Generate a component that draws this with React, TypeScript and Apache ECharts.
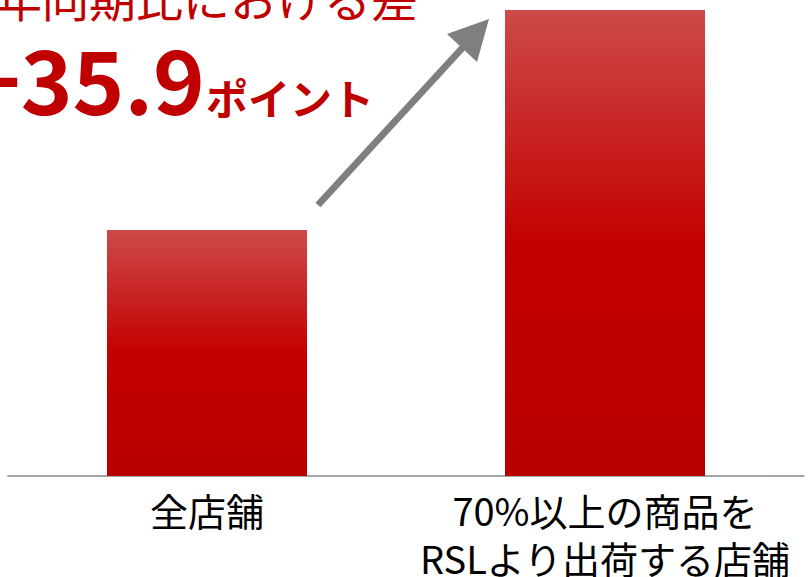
import React, { useEffect, useRef } from "react";
import * as echarts from "echarts";

const categories = ["全店舗", "70%以上の商品を\nRSLより出荷する店舗"];
const values = [40.1, 76.0];
const titleLine = "前年同期比における差";
const diffValue = "+35.9";
const diffUnit = "ポイント";

const FONT = '"Noto Sans CJK JP", "Noto Sans", sans-serif';

export default function App() {
  const ref = useRef<HTMLDivElement>(null);
  useEffect(() => {
    if (!ref.current) return;
    const chart = echarts.init(ref.current, null, { renderer: "svg" });
    chart.setOption({
      animation: false,
      backgroundColor: "#ffffff",
      grid: {
        left: 8,
        right: 8,
        top: 10,
        bottom: 101,
        containLabel: false,
        outerBoundsMode: "none",
      },
      xAxis: {
        type: "category",
        data: categories,
        axisLine: { show: true, lineStyle: { color: "#888888", width: 1.5 } },
        axisTick: { show: false },
        axisLabel: {
          color: "#000000",
          fontSize: 38,
          lineHeight: 48,
          margin: 9,
          fontFamily: FONT,
          interval: 0,
        },
      },
      yAxis: { type: "value", min: 0, max: 76, show: false, splitLine: { show: false } },
      series: [
        {
          type: "bar",
          data: values,
          barWidth: 200,
          itemStyle: {
            color: new echarts.graphic.LinearGradient(0, 0, 0, 1, [
              { offset: 0, color: "#cd4a4a" },
              { offset: 0.5, color: "#c40000" },
              { offset: 1, color: "#b80000" },
            ]),
          },
        },
      ],
      graphic: [
        {
          type: "text",
          x: 418,
          y: -4,
          style: {
            text: titleLine,
            fill: "#c00000",
            fontSize: 47,
            fontFamily: FONT,
            align: "right",
            verticalAlign: "middle",
          },
        },
        {
          type: "text",
          x: 205,
          y: 76,
          style: {
            text: diffValue,
            fill: "#c00000",
            fontSize: 88,
            fontWeight: "bold",
            fontFamily: FONT,
            align: "right",
            verticalAlign: "middle",
          },
        },
        {
          type: "text",
          x: 206,
          y: 96,
          style: {
            text: diffUnit,
            fill: "#c00000",
            fontSize: 42,
            fontWeight: "bold",
            fontFamily: FONT,
            align: "left",
            verticalAlign: "middle",
          },
        },
        {
          type: "line",
          shape: { x1: 318, y1: 205, x2: 466, y2: 44 },
          style: { stroke: "#7f7f7f", lineWidth: 7 },
        },
        {
          type: "polygon",
          shape: { points: [[489, 19], [447, 34], [477, 62]] },
          style: { fill: "#7f7f7f" },
        },
      ],
    });
    return () => chart.dispose();
  }, []);
  return (
    <div
      ref={ref}
      style={{ position: "fixed", left: 0, top: 0, width: 812, height: 577 }}
    />
  );
}
